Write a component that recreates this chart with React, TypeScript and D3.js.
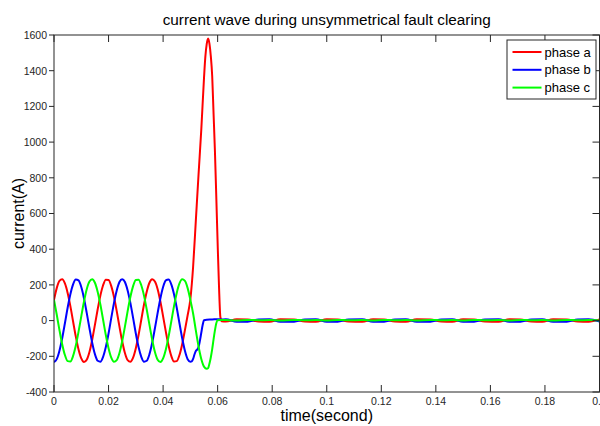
import React from "react";
import * as d3 from "d3";

// ---- data ----
const steadyTime = [
  0, 0.001, 0.002, 0.003, 0.004, 0.005, 0.006, 0.007, 0.008, 0.009,
  0.01, 0.011, 0.012, 0.013, 0.014, 0.015, 0.016, 0.017, 0.018, 0.019,
  0.02, 0.021, 0.022, 0.023, 0.024, 0.025, 0.026, 0.027, 0.028, 0.029,
  0.03, 0.031, 0.032, 0.033, 0.034, 0.035, 0.036, 0.037, 0.038, 0.039,
  0.04, 0.041, 0.042, 0.043, 0.044, 0.045, 0.046, 0.047, 0.048,
];

const phaseASteady = [
  116, 182, 222, 231, 208, 155, 81, -5, -90, -162,
  -212, -232, -219, -176, -107, -24, 62, 140, 198, 229,
  227, 193, 132, 53, -34, -116, -182, -222, -231, -208,
  -155, -81, 5, 90, 162, 212, 232, 219, 176, 107,
  24, -62, -140, -198, -229, -227, -193, -132, -53,
];
const phaseBSteady = [
  -232, -216, -169, -99, -15, 72, 148, 203, 230, 225,
  188, 124, 43, -43, -124, -188, -225, -230, -203, -148,
  -72, 15, 99, 169, 216, 232, 216, 169, 99, 15,
  -72, -148, -203, -230, -225, -188, -124, -43, 43, 124,
  188, 225, 230, 203, 148, 72, -15, -99, -169,
];
const phaseCSteady = [
  116, 34, -53, -132, -193, -227, -229, -198, -140, -62,
  24, 107, 176, 219, 232, 212, 162, 90, 5, -81,
  -155, -208, -231, -222, -182, -116, -34, 53, 132, 193,
  227, 229, 198, 140, 62, -24, -107, -176, -219, -232,
  -212, -162, -90, -5, 81, 155, 208, 231, 222,
];

const phaseAFaultTime = [0.049, 0.05, 0.051, 0.052, 0.053, 0.054, 0.055, 0.0555, 0.056, 0.0565, 0.057, 0.0575, 0.058, 0.0585, 0.059, 0.0595, 0.06, 0.0605, 0.061, 0.0615];
const phaseAFault = [30, 120, 300, 560, 820, 1070, 1360, 1480, 1550, 1580, 1550, 1480, 1370, 1160, 950, 694, 430, 190, 20, -4];

const phaseBFaultTime = [0.049, 0.05, 0.0505, 0.051, 0.0515, 0.052, 0.0525, 0.053, 0.0535, 0.054, 0.0545, 0.055, 0.056, 0.058, 0.06, 0.061];
const phaseBFault = [-216, -230, -228, -215, -190, -170, -163, -148, -112, -68, -25, 2, 5, 6, 8, 6];

const phaseCFaultTime = [0.049, 0.05, 0.051, 0.052, 0.053, 0.054, 0.055, 0.056, 0.0565, 0.057, 0.0575, 0.058, 0.0585, 0.059, 0.0595, 0.06, 0.061];
const phaseCFault = [182, 116, 40, -55, -145, -215, -258, -270, -266, -240, -205, -160, -105, -55, -15, 2, 4];

const tailTime = [
  0.063, 0.067, 0.071, 0.075, 0.079, 0.083, 0.088, 0.092, 0.096, 0.1,
  0.104, 0.108, 0.113, 0.117, 0.121, 0.125, 0.129, 0.133, 0.138, 0.142,
  0.146, 0.15, 0.154, 0.158, 0.163, 0.167, 0.171, 0.175, 0.179, 0.183,
  0.188, 0.192, 0.196, 0.2,
];
const phaseATail = [
  -5, 7, 6, -5, -6, 7, 6, -5, -6, 7, 6, -5, -6, 7, 6, -5, -6,
  7, 6, -5, -6, 7, 6, -5, -6, 7, 6, -5, -6, 7, 6, -5, -6, 7,
];
const phaseBTail = [
  7, -6, -6, 6, 7, -6, -6, 6, 7, -6, -6, 6, 7, -6, -6, 6, 7,
  -6, -6, 6, 7, -6, -6, 6, 7, -6, -6, 6, 7, -6, -6, 6, 7, -6,
];
const phaseCTail = [
  3, 1, 4, 2, 3, 1, 4, 2, 3, 1, 4, 2, 3, 1, 4, 2, 3,
  1, 4, 2, 3, 1, 4, 2, 3, 1, 4, 2, 3, 1, 4, 2, 3, 1,
];

const xTicks = [0, 0.02, 0.04, 0.06, 0.08, 0.1, 0.12, 0.14, 0.16, 0.18, 0.2];
const yTicks = [-400, -200, 0, 200, 400, 600, 800, 1000, 1200, 1400, 1600];
const seriesNames = ["phase a", "phase b", "phase c"];
const seriesColors = ["#ff0000", "#0000ff", "#00ff00"];

const titleText = "current wave during unsymmetrical fault clearing";
const xLabel = "time(second)";
const yLabel = "current(A)";

// ---- layout ----
const W = 600;
const H = 426;
const PL = 54;
const PR = 599.5;
const PT = 35;
const PB = 392;

export default function App() {
  const x = d3.scaleLinear().domain([0, 0.2]).range([PL, PR]);
  const y = d3.scaleLinear().domain([-400, 1600]).range([PB, PT]);

  const series = [
    d3.zip([...steadyTime, ...phaseAFaultTime, ...tailTime], [...phaseASteady, ...phaseAFault, ...phaseATail]),
    d3.zip([...steadyTime, ...phaseBFaultTime, ...tailTime], [...phaseBSteady, ...phaseBFault, ...phaseBTail]),
    d3.zip([...steadyTime, ...phaseCFaultTime, ...tailTime], [...phaseCSteady, ...phaseCFault, ...phaseCTail]),
  ];

  const line = d3
    .line<number[]>()
    .x((d) => x(d[0]))
    .y((d) => y(d[1]))
    .curve(d3.curveMonotoneX);

  const axisColor = "#262626";
  const tickFont = "'Liberation Sans Narrow', 'Arial Narrow', 'Liberation Sans', Arial, sans-serif";
  const mainFont = "'Liberation Sans', Arial, Helvetica, sans-serif";

  return (
    <svg
      width={W}
      height={H}
      viewBox={`0 0 ${W} ${H}`}
      style={{ position: "absolute", left: 0, top: 0, background: "#ffffff" }}
    >
      <rect x={0} y={0} width={W} height={H} fill="#ffffff" />
      <defs>
        <clipPath id="plotClip">
          <rect x={PL} y={PT} width={PR - PL} height={PB - PT} />
        </clipPath>
      </defs>

      {/* title */}
      <text x={(PL + PR) / 2} y={25} textAnchor="middle" fontFamily={mainFont} fontSize={15.3} fill="#000">
        {titleText}
      </text>

      {/* data lines */}
      <g clipPath="url(#plotClip)">
        {series.map((s, i) => (
          <path
            key={seriesNames[i]}
            d={line(s as number[][]) || ""}
            fill="none"
            stroke={seriesColors[i]}
            strokeWidth={2}
            strokeLinejoin="round"
          />
        ))}
      </g>

      {/* axes box */}
      <rect x={PL} y={PT} width={PR - PL} height={PB - PT} fill="none" stroke={axisColor} strokeWidth={1} />

      {/* x ticks */}
      {xTicks.map((t) => (
        <g key={"x" + t}>
          <line x1={x(t)} x2={x(t)} y1={PB} y2={PB - 7} stroke={axisColor} />
          <line x1={x(t)} x2={x(t)} y1={PT} y2={PT + 7} stroke={axisColor} />
          <text
            x={x(t)}
            y={PB + 13}
            textAnchor="middle"
            fontFamily={tickFont}
            fontSize={10.5}
            fill={axisColor}
          >
            {String(t)}
          </text>
        </g>
      ))}

      {/* y ticks */}
      {yTicks.map((v) => (
        <g key={"y" + v}>
          <line x1={PL - 5} x2={PL} y1={y(v)} y2={y(v)} stroke={axisColor} />
          <line x1={PR} x2={PR - 7} y1={y(v)} y2={y(v)} stroke={axisColor} />
          <text
            x={PL - 7}
            y={y(v) + 3.8}
            textAnchor="end"
            fontFamily={tickFont}
            fontSize={10.5}
            fill={axisColor}
          >
            {String(v)}
          </text>
        </g>
      ))}

      {/* axis labels */}
      <text x={(PL + PR) / 2} y={421} textAnchor="middle" fontFamily={mainFont} fontSize={16} fill="#000">
        {xLabel}
      </text>
      <text
        transform={`translate(24, ${(PT + PB) / 2}) rotate(-90)`}
        textAnchor="middle"
        fontFamily={mainFont}
        fontSize={16}
        fill="#000"
      >
        {yLabel}
      </text>

      {/* legend */}
      <g>
        <rect x={507} y={40} width={89} height={59} fill="#ffffff" stroke={axisColor} strokeWidth={1} />
        {seriesNames.map((name, i) => {
          const ly = 52 + i * 17.8;
          return (
            <g key={name}>
              <line x1={512.5} x2={541.5} y1={ly} y2={ly} stroke={seriesColors[i]} strokeWidth={2} />
              <text x={544.5} y={ly + 4.6} fontFamily={mainFont} fontSize={13} fill="#000">
                {name}
              </text>
            </g>
          );
        })}
      </g>
    </svg>
  );
}
